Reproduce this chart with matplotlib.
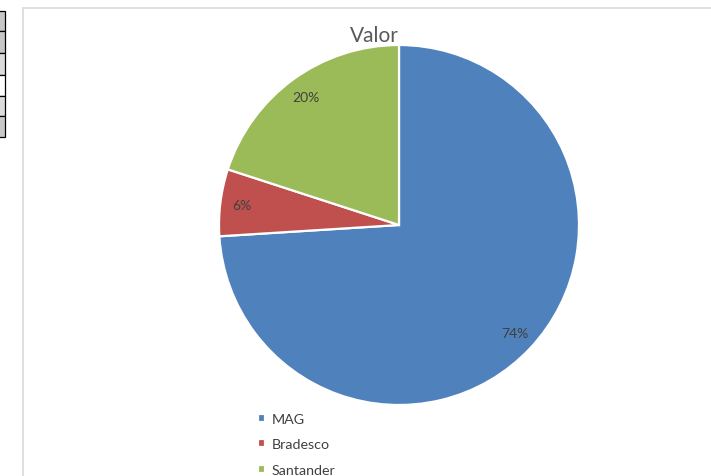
import matplotlib
matplotlib.use("Agg")
import matplotlib.pyplot as plt
from matplotlib.patches import Rectangle

W, H = 711, 477

bancos = ["MAG", "Bradesco", "Santander"]
valores = [74, 6, 20]
cores = ["#4F81BD", "#C0504D", "#9BBB59"]
titulo = "Valor"

# spreadsheet cells peeking in at the left edge (top, bottom, grey level)
celulas = [(12, 32, 0.78), (32, 54, 0.78), (54, 76, 0.86),
           (76, 97, 1.0), (97, 117, 0.86), (117, 138, 0.78)]

plt.rcParams["font.family"] = ["Lato", "DejaVu Sans"]

fig = plt.figure(figsize=(W / 100, H / 100), dpi=100)
fig.patch.set_facecolor("white")

# chart-area frame
fig.patches.append(Rectangle((22.5 / W, -0.01), 1.0, 1 - 9 / H + 0.01,
                             transform=fig.transFigure, fill=False,
                             edgecolor="#d9d9d9", linewidth=1.2))
for top, bot, g in celulas:
    fig.patches.append(Rectangle((-0.01, 1 - bot / H), 4.5 / W + 0.01, (bot - top) / H,
                                 transform=fig.transFigure, facecolor=(g, g, g),
                                 edgecolor="black", linewidth=0.9))

cx, cy, r = 399, 226, 180
ax = fig.add_axes([(cx - r) / W, (H - cy - r) / H, 2 * r / W, 2 * r / H])
wedges, _, autotexts = ax.pie(
    valores, colors=cores, startangle=90, counterclock=False,
    autopct="%1.0f%%", pctdistance=0.88,
    wedgeprops=dict(edgecolor="white", linewidth=1.6),
    textprops=dict(color="#404040", fontsize=10))
ax.set_xlim(-1, 1)
ax.set_ylim(-1, 1)
ax.set_aspect("equal")
ax.axis("off")

fig.text(374 / W, 1 - 36 / H, titulo, ha="center", va="center",
         fontsize=15, color="#595959")

fig.legend(wedges, bancos, loc="upper left",
           bbox_to_anchor=(245 / W, 1 - 401 / H), frameon=False,
           fontsize=10.3, labelcolor="#404040", handlelength=0.5,
           handleheight=0.5, handletextpad=0.45, labelspacing=0.95)

fig.savefig("out.png", dpi=100)
